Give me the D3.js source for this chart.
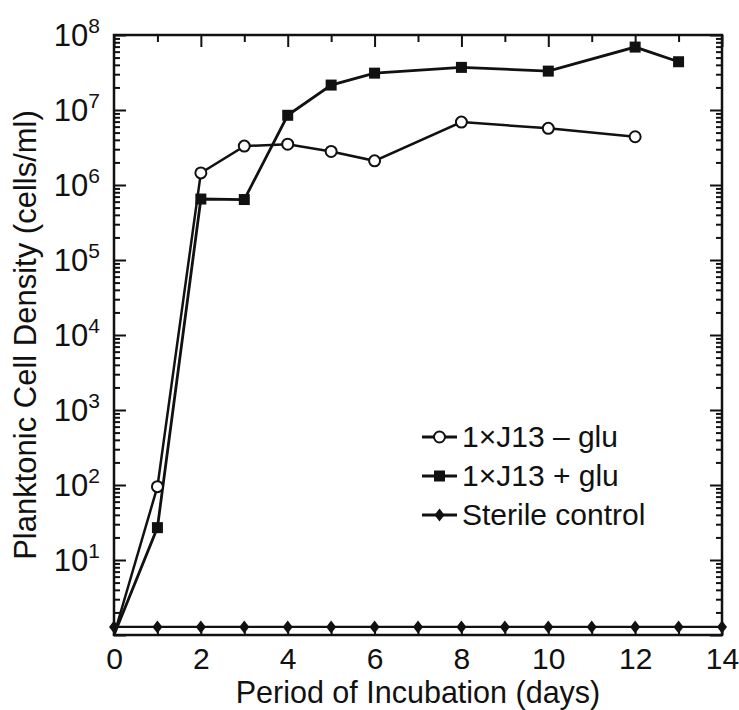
<!DOCTYPE html>
<html>
<head>
<meta charset="utf-8">
<script src="https://cdn.jsdelivr.net/npm/d3@7"></script>
<style>
  html, body { margin: 0; padding: 0; background: #fff; }
  svg { display: block; }
  text { font-family: "Liberation Sans", Arial, Helvetica, sans-serif; fill: #111; }
</style>
</head>
<body>
<svg id="chart" width="739" height="710"></svg>
<script>
// ---- data ----
const minusGluDays = [0, 1, 2, 3, 4, 5, 6, 8, 10, 12];
const minusGluValues = [1, 95, 1.45e6, 3.3e6, 3.5e6, 2.8e6, 2.1e6, 6.9e6, 5.7e6, 4.4e6];
const plusGluDays = [0, 1, 2, 3, 4, 5, 6, 8, 10, 12, 13];
const plusGluValues = [1, 27, 6.5e5, 6.4e5, 8.5e6, 2.15e7, 3.1e7, 3.7e7, 3.3e7, 6.9e7, 4.4e7];
const sterileDays = [0, 1, 2, 3, 4, 5, 6, 7, 8, 9, 10, 11, 12, 13, 14];
const sterileValues = [1.28, 1.28, 1.28, 1.28, 1.28, 1.28, 1.28, 1.28, 1.28, 1.28, 1.28, 1.28, 1.28, 1.28, 1.28];
const seriesNames = ["1\u00d7J13 \u2013 glu", "1\u00d7J13 + glu", "Sterile control"];
const xTickLabels = [0, 2, 4, 6, 8, 10, 12, 14];
const yTickExponents = [0, 1, 2, 3, 4, 5, 6, 7, 8];
const xTitle = "Period of Incubation (days)";
const yTitle = "Planktonic Cell Density (cells/ml)";

(function () {
// ---- layout ----
const pLeft = 114, pRight = 722, pTop = 35, pBottom = 635;
const svg = d3.select("#chart");
const x = d3.scaleLinear().domain([0, 14]).range([pLeft, pRight]);
const y = d3.scaleLog().domain([1, 1e8]).range([pBottom, pTop]);

const minorY = [];
for (let k = 0; k < 8; k++) for (let m = 2; m <= 9; m++) minorY.push(m * Math.pow(10, k));
const majorY = yTickExponents.map(e => Math.pow(10, e));
const oddDays = d3.range(1, 14, 2);

function styleAxis(g) {
  g.select(".domain").remove();
  g.selectAll(".tick line").attr("stroke", "#111").attr("stroke-width", 2);
}

// ticks (inward on all four sides)
svg.append("g").attr("transform", `translate(0,${pBottom})`)
  .call(d3.axisBottom(x).tickValues(xTickLabels).tickSize(-12).tickPadding(13).tickFormat(d3.format("d")))
  .call(styleAxis)
  .call(g => g.selectAll("text").attr("font-size", 30).style("fill", "#111").attr("font-family", "Liberation Sans, Arial, sans-serif"));
svg.append("g").attr("transform", `translate(0,${pBottom})`)
  .call(d3.axisBottom(x).tickValues(oddDays).tickSize(-7).tickFormat(""))
  .call(styleAxis);
svg.append("g").attr("transform", `translate(0,${pTop})`)
  .call(d3.axisTop(x).tickValues(xTickLabels).tickSize(-12).tickFormat(""))
  .call(styleAxis);
svg.append("g").attr("transform", `translate(0,${pTop})`)
  .call(d3.axisTop(x).tickValues(oddDays).tickSize(-7).tickFormat(""))
  .call(styleAxis);
svg.append("g").attr("transform", `translate(${pLeft},0)`)
  .call(d3.axisLeft(y).tickValues(majorY).tickSize(-12).tickFormat(""))
  .call(styleAxis);
svg.append("g").attr("transform", `translate(${pLeft},0)`)
  .call(d3.axisLeft(y).tickValues(minorY).tickSize(-6).tickFormat(""))
  .call(styleAxis);
svg.append("g").attr("transform", `translate(${pRight},0)`)
  .call(d3.axisRight(y).tickValues(majorY).tickSize(-12).tickFormat(""))
  .call(styleAxis);
svg.append("g").attr("transform", `translate(${pRight},0)`)
  .call(d3.axisRight(y).tickValues(minorY).tickSize(-6).tickFormat(""))
  .call(styleAxis);

// y tick labels with superscripts
const yl = svg.append("g");
yTickExponents.filter(e => e > 0).forEach(e => {
  const t = yl.append("text")
    .attr("x", pLeft - 14).attr("y", y(Math.pow(10, e)) + 11)
    .attr("text-anchor", "end").attr("font-size", 31);
  t.append("tspan").text("10");
  t.append("tspan").attr("font-size", 21).attr("dy", -13).text(e);
});

// frame
svg.append("rect").attr("x", pLeft).attr("y", pTop)
  .attr("width", pRight - pLeft).attr("height", pBottom - pTop)
  .attr("fill", "none").attr("stroke", "#111").attr("stroke-width", 2.5);

// series
const line = d3.line().x(d => x(d[0])).y(d => y(d[1]));
const sData = sterileDays.map((d, i) => [d, sterileValues[i]]);
const mData = minusGluDays.map((d, i) => [d, minusGluValues[i]]);
const pData = plusGluDays.map((d, i) => [d, plusGluValues[i]]);

const diamond = (cx, cy, w, h) => `M${cx},${cy - h}L${cx + w},${cy}L${cx},${cy + h}L${cx - w},${cy}Z`;

svg.append("path").datum(sData).attr("d", line).attr("fill", "none").attr("stroke", "#111").attr("stroke-width", 2.2);
svg.append("g").selectAll("path").data(sData).join("path")
  .attr("d", d => diamond(x(d[0]), y(d[1]), 5, 6.5)).attr("fill", "#111");

svg.append("path").datum(pData).attr("d", line).attr("fill", "none").attr("stroke", "#111").attr("stroke-width", 2.8);
svg.append("path").datum(mData).attr("d", line).attr("fill", "none").attr("stroke", "#111").attr("stroke-width", 2.5);

svg.append("g").selectAll("rect").data(pData.filter(d => d[0] > 0)).join("rect")
  .attr("x", d => x(d[0]) - 5.5).attr("y", d => y(d[1]) - 5.5)
  .attr("width", 11).attr("height", 11).attr("fill", "#111");
svg.append("g").selectAll("circle").data(mData.filter(d => d[0] > 0)).join("circle")
  .attr("cx", d => x(d[0])).attr("cy", d => y(d[1])).attr("r", 5.5)
  .attr("fill", "#fff").attr("stroke", "#111").attr("stroke-width", 2);

// legend
const lg = svg.append("g");
const legY = [437, 476, 515];
const lx0 = 422, lx1 = 457, lxm = 439.5;
seriesNames.forEach((name, i) => {
  const yy = legY[i];
  lg.append("line").attr("x1", lx0).attr("x2", lx1).attr("y1", yy).attr("y2", yy)
    .attr("stroke", "#111").attr("stroke-width", 2.8);
  if (i === 0) lg.append("circle").attr("cx", lxm).attr("cy", yy).attr("r", 5.5)
    .attr("fill", "#fff").attr("stroke", "#111").attr("stroke-width", 2);
  if (i === 1) lg.append("rect").attr("x", lxm - 5.5).attr("y", yy - 5.5).attr("width", 11).attr("height", 11).attr("fill", "#111");
  if (i === 2) lg.append("path").attr("d", diamond(lxm, yy, 5, 6.5)).attr("fill", "#111");
  lg.append("text").attr("x", 462).attr("y", yy + 10).attr("font-size", 30).text(name);
});

// axis titles
svg.append("text").attr("x", (pLeft + pRight) / 2).attr("y", 703)
  .attr("text-anchor", "middle").attr("font-size", 30.5).text(xTitle);
svg.append("text").attr("transform", `translate(36,${(pTop + pBottom) / 2}) rotate(-90)`)
  .attr("text-anchor", "middle").attr("font-size", 31).text(yTitle);
})();
</script>
</body>
</html>
